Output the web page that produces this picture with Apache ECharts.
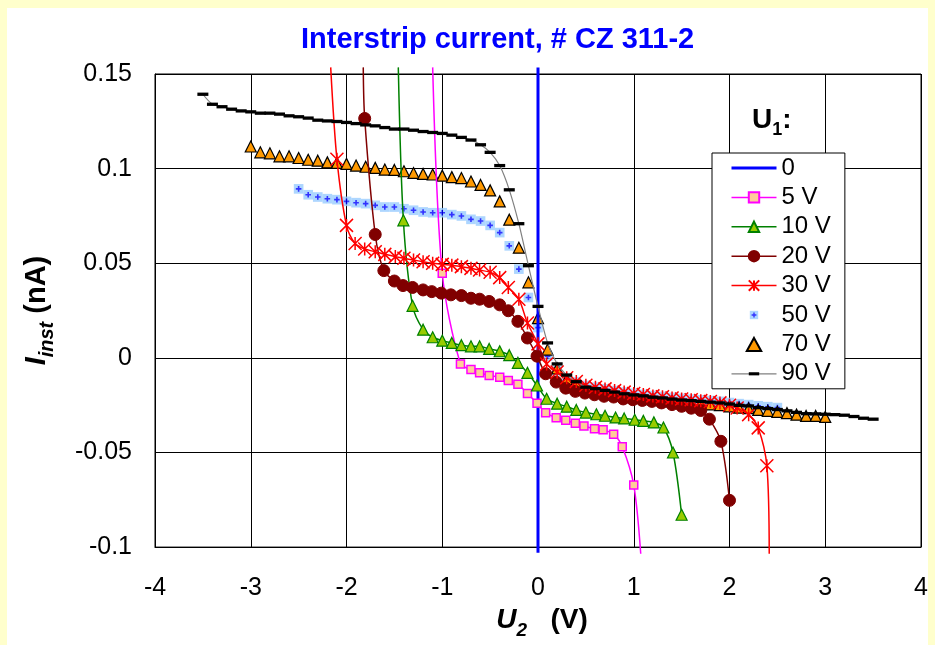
<!DOCTYPE html>
<html>
<head>
<meta charset="utf-8">
<script src="https://cdn.jsdelivr.net/npm/echarts@6/dist/echarts.min.js"></script>
<style>
  html, body { margin: 0; padding: 0; background: #FFFFCC; }
  #chart { width: 935px; height: 645px; }
</style>
</head>
<body>
<div id="chart"></div>
<script>
// Interstrip current I_inst versus U2, one curve per U1 bias.
const seriesNames = ['0', '5 V', '10 V', '20 V', '30 V', '50 V', '70 V', '90 V'];

const bias0 = [[0, 0.1535], [0, -0.103]];

const bias5 = [[-1.10, 0.1535], [-1.00, 0.0447], [-0.81, -0.0032], [-0.70, -0.0061], [-0.61, -0.0079],
  [-0.51, -0.0093], [-0.40, -0.0102], [-0.31, -0.0119], [-0.21, -0.0140], [-0.11, -0.0188],
  [-0.01, -0.0240], [0.08, -0.0290], [0.19, -0.0316], [0.29, -0.0330], [0.39, -0.0346],
  [0.48, -0.0360], [0.59, -0.0374], [0.68, -0.0380], [0.79, -0.0404], [0.88, -0.0470],
  [1.00, -0.0672], [1.073, -0.1035]];

const bias10 = [[-1.459, 0.1535], [-1.406, 0.0727], [-1.31, 0.0275], [-1.20, 0.0149], [-1.10, 0.0109],
  [-1.00, 0.0091], [-0.90, 0.0079], [-0.80, 0.0067], [-0.70, 0.0061], [-0.61, 0.0061],
  [-0.51, 0.0047], [-0.40, 0.0035], [-0.30, 0.0014], [-0.21, -0.0026], [-0.11, -0.0079],
  [-0.01, -0.0146], [0.09, -0.0216], [0.20, -0.0242], [0.30, -0.0258], [0.40, -0.0275],
  [0.50, -0.0289], [0.61, -0.0298], [0.70, -0.0306], [0.81, -0.0315], [0.90, -0.0320],
  [1.01, -0.0327], [1.10, -0.0333], [1.21, -0.0341], [1.31, -0.0368], [1.41, -0.0500],
  [1.50, -0.0829]];

const bias20 = [[-1.825, 0.1535], [-1.81, 0.1265], [-1.70, 0.0652], [-1.61, 0.0461], [-1.50, 0.0406],
  [-1.41, 0.0382], [-1.31, 0.0372], [-1.20, 0.0359], [-1.11, 0.0350], [-1.01, 0.0342],
  [-0.91, 0.0333], [-0.80, 0.0329], [-0.70, 0.0315], [-0.61, 0.0310], [-0.51, 0.0298],
  [-0.40, 0.0280], [-0.31, 0.0249], [-0.21, 0.0193], [-0.11, 0.0105], [-0.01, 0.0009],
  [0.08, -0.0084], [0.19, -0.0128], [0.29, -0.0160], [0.39, -0.0177], [0.49, -0.0186],
  [0.59, -0.0195], [0.69, -0.0203], [0.79, -0.0207], [0.89, -0.0217], [0.99, -0.0221],
  [1.09, -0.0225], [1.19, -0.0230], [1.29, -0.0238], [1.40, -0.0247], [1.50, -0.0256],
  [1.60, -0.0266], [1.70, -0.0278], [1.79, -0.0324], [1.91, -0.0441], [2.00, -0.0753]];

const bias30 = [[-2.165, 0.1535], [-2.10, 0.1050], [-2.00, 0.0700], [-1.91, 0.0604], [-1.81, 0.0575],
  [-1.70, 0.0561], [-1.60, 0.0547], [-1.49, 0.0535], [-1.40, 0.0526], [-1.30, 0.0517],
  [-1.20, 0.0508], [-1.10, 0.0500], [-1.00, 0.0494], [-0.90, 0.0490], [-0.80, 0.0482],
  [-0.70, 0.0473], [-0.61, 0.0464], [-0.50, 0.0452], [-0.40, 0.0424], [-0.31, 0.0372],
  [-0.20, 0.0310], [-0.11, 0.0184], [0.00, 0.0074], [0.09, -0.0032], [0.20, -0.0075],
  [0.30, -0.0105], [0.40, -0.0125], [0.50, -0.0145], [0.60, -0.0155], [0.70, -0.0164],
  [0.80, -0.0173], [0.90, -0.0181], [1.00, -0.0188], [1.10, -0.0194], [1.20, -0.0201],
  [1.30, -0.0206], [1.40, -0.0212], [1.50, -0.0217], [1.60, -0.0221], [1.70, -0.0226],
  [1.80, -0.0231], [1.90, -0.0238], [2.00, -0.0250], [2.08, -0.0265], [2.20, -0.0300],
  [2.30, -0.0370], [2.39, -0.0570], [2.415, -0.1035]];

const bias50 = [[-2.5, 0.0893], [-2.4, 0.0862], [-2.3, 0.0850], [-2.2, 0.0841], [-2.1, 0.0836],
  [-2.0, 0.0827], [-1.9, 0.0820], [-1.8, 0.0815], [-1.7, 0.0806], [-1.6, 0.0797],
  [-1.5, 0.0797], [-1.4, 0.0788], [-1.3, 0.0780], [-1.2, 0.0771], [-1.1, 0.0767],
  [-1.0, 0.0767], [-0.9, 0.0757], [-0.8, 0.0750], [-0.7, 0.0732], [-0.6, 0.0723],
  [-0.5, 0.0700], [-0.4, 0.0662], [-0.3, 0.0592], [-0.2, 0.0469], [-0.1, 0.0319],
  [0.0, 0.0160], [0.1, 0.0009], [0.2, -0.0068], [0.3, -0.0105], [0.4, -0.0126],
  [0.5, -0.0146], [0.6, -0.0155], [0.7, -0.0164], [0.8, -0.0173], [0.9, -0.0181],
  [1.0, -0.0187], [1.1, -0.0193], [1.2, -0.0199], [1.3, -0.0204], [1.4, -0.0209],
  [1.5, -0.0214], [1.6, -0.0218], [1.7, -0.0222], [1.8, -0.0226], [1.9, -0.0230],
  [2.0, -0.0236], [2.1, -0.0242], [2.2, -0.0247], [2.3, -0.0253], [2.4, -0.0258],
  [2.5, -0.0263]];

const bias70 = [[-3.0, 0.1117], [-2.9, 0.1086], [-2.8, 0.1081], [-2.7, 0.1065], [-2.6, 0.1065],
  [-2.5, 0.1056], [-2.4, 0.1047], [-2.3, 0.1042], [-2.2, 0.1033], [-2.1, 0.1030],
  [-2.0, 0.1025], [-1.9, 0.1016], [-1.8, 0.1010], [-1.7, 0.1004], [-1.6, 0.0995],
  [-1.5, 0.0993], [-1.4, 0.0986], [-1.3, 0.0977], [-1.2, 0.0972], [-1.1, 0.0969],
  [-1.0, 0.0963], [-0.9, 0.0955], [-0.8, 0.0950], [-0.7, 0.0932], [-0.6, 0.0914],
  [-0.5, 0.0885], [-0.4, 0.0827], [-0.3, 0.0730], [-0.2, 0.0582], [-0.1, 0.0399],
  [0.0, 0.0210], [0.1, 0.0044], [0.2, -0.0056], [0.3, -0.0114], [0.4, -0.0140],
  [0.5, -0.0167], [0.6, -0.0175], [0.7, -0.0184], [0.8, -0.0193], [0.9, -0.0202],
  [1.0, -0.0208], [1.1, -0.0213], [1.2, -0.0220], [1.3, -0.0224], [1.4, -0.0230],
  [1.5, -0.0235], [1.6, -0.0238], [1.7, -0.0242], [1.8, -0.0246], [1.9, -0.0250],
  [2.0, -0.0256], [2.1, -0.0263], [2.2, -0.0266], [2.3, -0.0275], [2.4, -0.0280],
  [2.5, -0.0285], [2.6, -0.0292], [2.7, -0.0300], [2.8, -0.0307], [2.9, -0.0307],
  [3.0, -0.0312]];

const bias90 = [[-3.5, 0.1393], [-3.4, 0.1340], [-3.3, 0.1327], [-3.2, 0.1314], [-3.1, 0.1305],
  [-3.0, 0.1300], [-2.9, 0.1293], [-2.8, 0.1293], [-2.7, 0.1288], [-2.6, 0.1279],
  [-2.5, 0.1274], [-2.4, 0.1267], [-2.3, 0.1256], [-2.2, 0.1252], [-2.1, 0.1249],
  [-2.0, 0.1244], [-1.9, 0.1238], [-1.8, 0.1231], [-1.7, 0.1226], [-1.6, 0.1217],
  [-1.5, 0.1209], [-1.4, 0.1209], [-1.3, 0.1203], [-1.2, 0.1196], [-1.1, 0.1191],
  [-1.0, 0.1186], [-0.9, 0.1177], [-0.8, 0.1165], [-0.7, 0.1151], [-0.6, 0.1126],
  [-0.5, 0.1086], [-0.4, 0.1016], [-0.3, 0.0888], [-0.2, 0.0709], [-0.1, 0.0487],
  [0.0, 0.0272], [0.1, 0.0079], [0.2, -0.0032], [0.3, -0.0091], [0.4, -0.0126],
  [0.5, -0.0155], [0.6, -0.0163], [0.7, -0.0172], [0.8, -0.0181], [0.9, -0.0190],
  [1.0, -0.0196], [1.1, -0.0201], [1.2, -0.0208], [1.3, -0.0212], [1.4, -0.0218],
  [1.5, -0.0223], [1.6, -0.0226], [1.7, -0.0230], [1.8, -0.0234], [1.9, -0.0238],
  [2.0, -0.0244], [2.1, -0.0251], [2.2, -0.0254], [2.3, -0.0263], [2.4, -0.0268],
  [2.5, -0.0273], [2.6, -0.0280], [2.7, -0.0288], [2.8, -0.0295], [2.9, -0.0296],
  [3.0, -0.0298], [3.1, -0.0300], [3.2, -0.0303], [3.3, -0.0310], [3.4, -0.0319],
  [3.5, -0.0324]];

// Which curves run off the plot edge at their first / last point (no marker there).
const runsOffEdge = { '5 V': [true, true], '10 V': [true, false], '20 V': [true, false], '30 V': [true, true] };

const FONT = '"Liberation Sans", Arial, Helvetica, sans-serif';

// Marker shapes
const blankSymbol = 'path://M0,0M10,10';
const asteriskSymbol = 'path://M0,0L10,10M10,0L0,10M5,0L5,10';
const dashSymbol = 'path://M0,0M0,10M0,3.5L10,3.5L10,6.5L0,6.5Z';
const triangleSymbol = 'path://M5,0L10,9L0,9Z';
const plusBoxSymbol = 'image://data:image/svg+xml;charset=utf-8,' + encodeURIComponent(
  '<svg xmlns="http://www.w3.org/2000/svg" width="28" height="28" viewBox="0 0 14 14">' +
  '<rect x="2.5" y="2.5" width="9" height="9" fill="#99CCFF"/>' +
  '<path d="M7 4.4V9.6M4.4 7H9.6" stroke="#0000FF" stroke-width="1.5"/></svg>');

function withEdges(name, pts) {
  const flags = runsOffEdge[name] || [false, false];
  return pts.map((p, k) => {
    const edge = (k === 0 && flags[0]) || (k === pts.length - 1 && flags[1]);
    return edge ? { value: p, symbol: 'none' } : p;
  });
}

function curve(name, pts, opts) {
  return Object.assign({
    name: name,
    type: 'line',
    data: withEdges(name, pts),
    clip: false,
    smooth: 0.3,
    animation: false,
    emphasis: { disabled: true }
  }, opts);
}

const series = [
  curve('0', bias0, {
    smooth: false, symbol: blankSymbol, symbolSize: 1,
    lineStyle: { color: '#0000FF', width: 3 },
    itemStyle: { color: 'rgba(0,0,0,0)', borderWidth: 0 }
  }),
  curve('5 V', bias5, {
    symbol: 'rect', symbolSize: 8,
    lineStyle: { color: '#FF00FF', width: 1.5 },
    itemStyle: { color: '#FFCC99', borderColor: '#FF00FF', borderWidth: 1.5 }
  }),
  curve('10 V', bias10, {
    symbol: 'triangle', symbolSize: 11,
    lineStyle: { color: '#008000', width: 1.5 },
    itemStyle: { color: '#99CC00', borderColor: '#008000', borderWidth: 1.2 }
  }),
  curve('20 V', bias20, {
    symbol: 'circle', symbolSize: 12,
    lineStyle: { color: '#800000', width: 1.5 },
    itemStyle: { color: '#800000', borderColor: '#800000', borderWidth: 1 }
  }),
  curve('30 V', bias30, {
    symbol: asteriskSymbol, symbolSize: 13,
    lineStyle: { color: '#FF0000', width: 1.5 },
    itemStyle: { color: '#FF0000', borderColor: '#FF0000', borderWidth: 1.5 }
  }),
  {
    name: '50 V', type: 'scatter', data: bias50, animation: false,
    symbol: plusBoxSymbol, symbolSize: 15,
    emphasis: { disabled: true }
  },
  {
    name: '70 V', type: 'scatter', data: bias70, animation: false,
    symbol: triangleSymbol, symbolSize: 11,
    itemStyle: { color: '#FF9900', borderColor: '#000000', borderWidth: 1.2, opacity: 1 },
    emphasis: { disabled: true }
  },
  curve('90 V', bias90, {
    symbol: dashSymbol, symbolSize: 11,
    lineStyle: { color: '#808080', width: 1.2 },
    itemStyle: { color: '#000000', borderWidth: 0 }
  })
];

const chart = echarts.init(document.getElementById('chart'), null, { renderer: 'canvas' });

chart.setOption({
  backgroundColor: '#FFFFCC',
  animation: false,
  textStyle: { fontFamily: FONT },
  title: {
    text: 'Interstrip current, # CZ 311-2',
    left: 296, top: 20,
    textStyle: { color: '#0000FF', fontSize: 29, fontWeight: 'bold', fontFamily: FONT }
  },
  graphic: [
    { type: 'rect', z: -10, silent: true, shape: { x: 7, y: 8, width: 921, height: 640 }, style: { fill: '#FFFFFF' } },
    {
      type: 'text', left: 752, top: 106, silent: true,
      style: {
        text: '{u|U}{s|1}{u|:}',
        rich: {
          u: { fontSize: 28, fontWeight: 'bold', fontFamily: FONT, fill: '#000', lineHeight: 29, padding: [0, 0, 5, 0], verticalAlign: 'bottom' },
          s: { fontSize: 18, fontWeight: 'bold', fontFamily: FONT, fill: '#000', lineHeight: 18, verticalAlign: 'bottom' }
        }
      }
    }
  ],
  grid: {
    left: 155, right: 14, top: 74, bottom: 95,
    show: true, backgroundColor: '#FFFFFF', borderColor: '#000000', borderWidth: 1
  },
  xAxis: {
    type: 'value', min: -4, max: 4, interval: 1,
    axisLine: { onZero: false, lineStyle: { color: '#000', width: 1 } },
    axisTick: { show: false },
    splitLine: { show: true, lineStyle: { color: '#000', width: 1 } },
    axisLabel: { color: '#000', fontSize: 25, fontFamily: FONT, margin: 29 },
    name: '{u|U}{s|2}{n|   (V)}',
    nameLocation: 'middle', nameGap: 58,
    nameTextStyle: {
      padding: [0, 0, 0, 8],
      rich: {
        u: { fontSize: 28, fontWeight: 'bold', fontStyle: 'italic', fontFamily: FONT, color: '#000', lineHeight: 28, padding: [0, 0, 6, 0], verticalAlign: 'bottom' },
        s: { fontSize: 19, fontWeight: 'bold', fontStyle: 'italic', fontFamily: FONT, color: '#000', lineHeight: 19, verticalAlign: 'bottom' },
        n: { fontSize: 28, fontWeight: 'bold', fontFamily: FONT, color: '#000', lineHeight: 28, padding: [0, 0, 6, 0], verticalAlign: 'bottom' }
      }
    }
  },
  yAxis: {
    type: 'value', min: -0.1, max: 0.15, interval: 0.05,
    axisLine: { onZero: false, lineStyle: { color: '#000', width: 1 } },
    axisTick: { show: false },
    splitLine: { show: true, lineStyle: { color: '#000', width: 1 } },
    axisLabel: { color: '#000', fontSize: 25, fontFamily: FONT, margin: 23 },
    name: '{u|I}{s|inst}{n| (nA)}',
    nameLocation: 'middle', nameGap: 98, nameRotate: 90,
    nameTextStyle: {
      rich: {
        u: { fontSize: 29, fontWeight: 'bold', fontStyle: 'italic', fontFamily: FONT, color: '#000', lineHeight: 29, padding: [0, 0, 6, 0], verticalAlign: 'bottom' },
        s: { fontSize: 20, fontWeight: 'bold', fontStyle: 'italic', fontFamily: FONT, color: '#000', lineHeight: 20, verticalAlign: 'bottom' },
        n: { fontSize: 29, fontWeight: 'bold', fontFamily: FONT, color: '#000', lineHeight: 29, padding: [0, 0, 6, 0], verticalAlign: 'bottom' }
      }
    }
  },
  legend: {
    data: seriesNames.map(n => n === '0' ? { name: n, lineStyle: { width: 3 } } : n),
    orient: 'vertical', left: 712, top: 153,
    itemWidth: 45, itemHeight: 13, itemGap: 5.4,
    padding: [3, 14, 3, 18],
    backgroundColor: '#FFFFFF', borderColor: '#000000', borderWidth: 1,
    selectedMode: false,
    lineStyle: { width: 'inherit' },
    textStyle: { color: '#000', fontSize: 24, lineHeight: 24, fontFamily: FONT }
  },
  series: series
});
</script>
</body>
</html>
